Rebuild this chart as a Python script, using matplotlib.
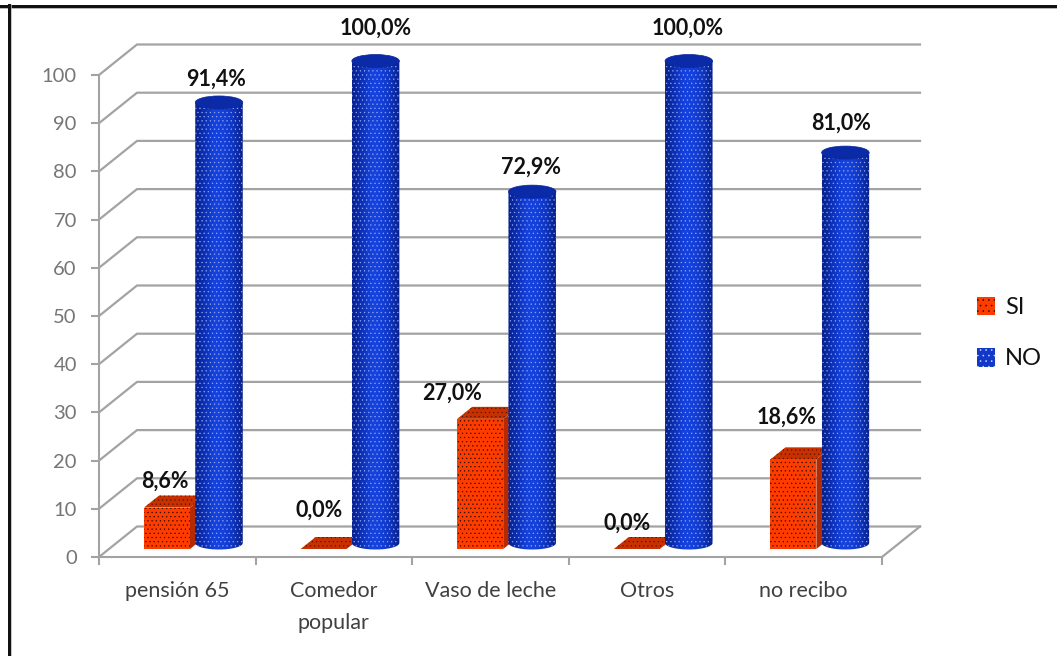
import numpy as np
import matplotlib
matplotlib.use("Agg")
import matplotlib.pyplot as plt
from matplotlib.colors import LinearSegmentedColormap
from matplotlib.lines import Line2D
from matplotlib.patches import Ellipse, Patch, Polygon, Rectangle

# Survey results, percent of respondents per programme
categories = ["pensión 65", "Comedor\npopular", "Vaso de leche", "Otros", "no recibo"]
si_values = [8.6, 0.0, 27.0, 0.0, 18.6]
no_values = [91.4, 100.0, 72.9, 100.0, 81.0]
y_ticks = list(range(0, 101, 10))

W, H = 1057, 656
LEFT, RIGHT, BASE, TOP = 99, 882, 557, 75
PX_X = 5 / (RIGHT - LEFT)      # data units per pixel, horizontally
PX_Y = 100 / (BASE - TOP)      # data units per pixel, vertically

plt.rcParams["font.family"] = ["Lato", "DejaVu Sans"]
plt.rcParams["hatch.linewidth"] = 0.4

fig = plt.figure(figsize=(W / 100, H / 100), dpi=100)
ax = fig.add_axes([LEFT / W, 1 - BASE / H, (RIGHT - LEFT) / W, (BASE - TOP) / H])
ax.patch.set_alpha(0)

# Outer frame: dark rule with a soft grey shadow
for coords, colour, lw in [
    (([0, 1], [1 - 8 / H] * 2), "#b5b5b5", 2),
    (([0, 1], [1 - 5.5 / H] * 2), "#111111", 3),
    (([11 / W] * 2, [0, 1 - 5 / H]), "#b5b5b5", 1.5),
    (([8.5 / W] * 2, [0, 1 - 5 / H]), "#111111", 3),
]:
    fig.add_artist(Line2D(coords[0], coords[1], color=colour, lw=lw * 0.72,
                          transform=fig.transFigure))

# Back wall gridlines and floor, offset from the front plane for the 3D look
GRID = "#a3a3a3"
depth_x, depth_y = 38 * PX_X, 30.5 * PX_Y
for v in y_ticks:
    ax.plot([0, depth_x, 5 + depth_x], [v, v + depth_y, v + depth_y],
            color=GRID, lw=1.6, zorder=1, clip_on=False, solid_joinstyle="miter")
ax.plot([5, 5 + depth_x], [0, depth_y], color=GRID, lw=1.6, zorder=1, clip_on=False)

# Horizontal shading across a cylinder: dark edges, bright centre
blue_map = LinearSegmentedColormap.from_list(
    "cyl", ["#07208a", "#0c30b8", "#1542de", "#1541da", "#0f35c0", "#07208a"])

bar_dx, bar_w = 45 * PX_X, 46 * PX_X
bar_base = 8 * PX_Y
side_x, side_y = 15 * PX_X, 12 * PX_Y
cyl_cx, cyl_w = 120 * PX_X, 47.5 * PX_X
cyl_base, cyl_h = 14 * PX_Y, 13 * PX_Y

for i, (si, no) in enumerate(zip(si_values, no_values)):
    # Cuboid for the SI series
    x0 = i + bar_dx
    x1 = x0 + bar_w
    y0 = bar_base
    y1 = y0 + si
    ax.add_patch(Polygon([(x1, y0), (x1 + side_x, y0 + side_y),
                          (x1 + side_x, y1 + side_y), (x1, y1)],
                         facecolor="#b52a00", edgecolor="none", zorder=3, clip_on=False))
    ax.add_patch(Polygon([(x0, y1), (x1, y1), (x1 + side_x, y1 + side_y), (x0 + side_x, y1 + side_y)],
                         facecolor="#c93000", edgecolor="#5a1700", lw=0, hatch="....",
                         zorder=3, clip_on=False))
    if si > 0:
        ax.add_patch(Rectangle((x0, y0), bar_w, si, facecolor="#ff3c00",
                               edgecolor="#2a0c00", lw=0, hatch="....",
                               zorder=4, clip_on=False))

    # Cylinder for the NO series
    cx = i + cyl_cx
    cy0 = cyl_base
    cy1 = cy0 + no
    xs = np.linspace(-1, 1, 200)
    outline = np.concatenate([
        np.column_stack([cx + xs * cyl_w / 2, cy0 - np.sqrt(1 - xs**2) * cyl_h / 2]),
        np.column_stack([cx + xs[::-1] * cyl_w / 2, np.full_like(xs, cy1)]),
    ])
    body = Polygon(outline, closed=True, facecolor="none", edgecolor="none", zorder=5, clip_on=False)
    ax.add_patch(body)
    gradient = ax.imshow(np.linspace(0, 1, 64)[None, :], cmap=blue_map, aspect="auto",
                         extent=(cx - cyl_w / 2, cx + cyl_w / 2, cy0 - cyl_h, cy1),
                         zorder=5, interpolation="bilinear")
    gradient.set_clip_box(fig.bbox)
    gradient.set_clip_path(body)
    ax.add_patch(Polygon(outline, closed=True, facecolor="none", edgecolor="#8fa6ee",
                         lw=0, hatch="....", zorder=5.5, clip_on=False))
    ax.add_patch(Ellipse((cx, cy1), cyl_w, cyl_h, facecolor="#0b2aa8",
                         edgecolor="#0a2596", lw=0.5, zorder=6, clip_on=False))

ax.set_xlim(0, 5)
ax.set_ylim(0, 100)

# Axes
for side in ("top", "right"):
    ax.spines[side].set_visible(False)
for side in ("left", "bottom"):
    ax.spines[side].set_color(GRID)
    ax.spines[side].set_linewidth(1.5)
ax.set_yticks(y_ticks)
ax.set_xticks(range(6))
ax.set_xticklabels([])
ax.set_xticks(np.arange(5) + 0.5, labels=categories, minor=True)
ax.tick_params(axis="y", length=5.5, width=1.5, color=GRID, labelcolor="#757575",
               labelsize=14.5, pad=10.5)
ax.tick_params(axis="x", which="major", length=6, width=1.5, color=GRID)
ax.tick_params(axis="x", which="minor", length=0, labelcolor="#404040", labelsize=15.5, pad=17)
for label in ax.get_xminorticklabels():
    label.set_linespacing(1.75)

# Value labels, shifted by hand as in the source chart
si_label_px = [(-2, 26), (-4, 39), (-28, 26), (-10, 26), (-7, 42)]
no_label_px = [(-2.5, 23), (0, 33), (-1, 24), (-1, 33), (-4, 29)]
for i, (si, no) in enumerate(zip(si_values, no_values)):
    ax.annotate(f"{si:.1f}%".replace(".", ","),
                (i + bar_dx + bar_w / 2, bar_base + si), xytext=si_label_px[i],
                textcoords="offset pixels", ha="center", va="center",
                fontsize=15.5, fontweight="bold", color="#111111", zorder=8, annotation_clip=False)
    ax.annotate(f"{no:.1f}%".replace(".", ","),
                (i + cyl_cx, cyl_base + no), xytext=no_label_px[i],
                textcoords="offset pixels", ha="center", va="center",
                fontsize=15.5, fontweight="bold", color="#111111", zorder=8, annotation_clip=False)

handles = [Patch(facecolor="#ff3c00", edgecolor="#2a0c00", lw=0, hatch="...", label="SI"),
           Patch(facecolor="#1238c8", edgecolor="#cfd8ff", lw=0, hatch="...", label="NO")]
fig.legend(handles=handles, loc="center left", bbox_to_anchor=(969.5 / W, 1 - 333 / H),
           frameon=False, fontsize=17, handlelength=0.78, handleheight=0.85,
           handletextpad=0.42, labelspacing=1.25, borderpad=0.3, borderaxespad=0,
           labelcolor="#111111")

fig.savefig("out.png", dpi=100)
